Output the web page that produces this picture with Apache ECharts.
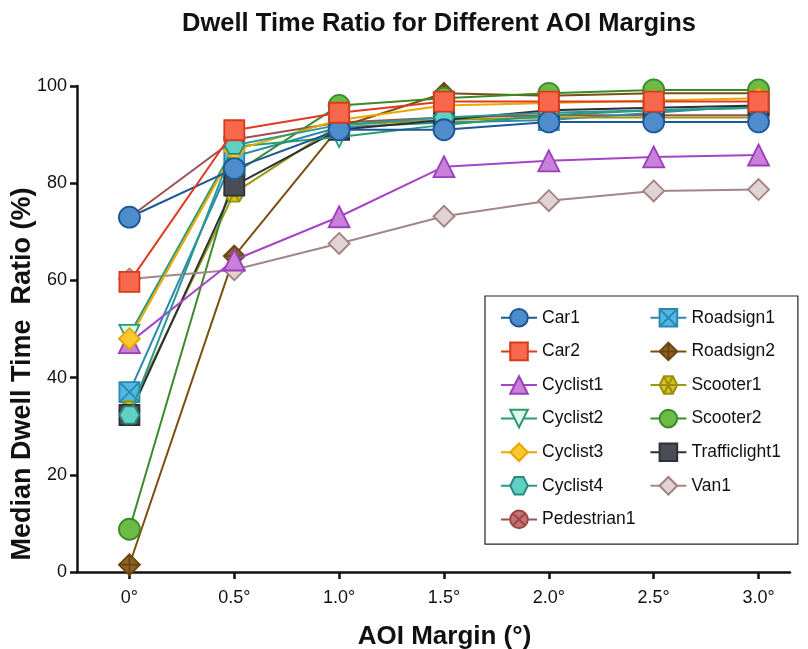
<!DOCTYPE html>
<html><head><meta charset="utf-8">
<script src="https://cdn.jsdelivr.net/npm/echarts@6/dist/echarts.min.js"></script>
<style>html,body{margin:0;padding:0;background:#fff}#c{width:808px;height:649px}</style>
</head><body><div id="c"></div>
<script>
const margins = [0, 0.5, 1.0, 1.5, 2.0, 2.5, 3.0];
const marginLabels = ['0°', '0.5°', '1.0°', '1.5°', '2.0°', '2.5°', '3.0°'];
const yTicks = [0, 20, 40, 60, 80, 100];

const car1 = [73.0, 83.0, 91.0, 91.0, 92.6, 92.6, 92.6];
const car2 = [59.7, 90.9, 94.5, 96.8, 96.8, 96.8, 96.8];
const cyclist1 = [47.2, 64.2, 73.1, 83.4, 84.6, 85.4, 85.8];
const cyclist2 = [48.8, 87.5, 89.5, 92.0, 94.0, 95.0, 95.5];
const cyclist3 = [48.0, 86.8, 93.0, 96.0, 96.5, 97.0, 97.5];
const cyclist4 = [32.3, 87.8, 92.0, 93.5, 94.5, 95.0, 95.5];
const pedestrian1 = [73.0, 89.0, 92.5, 93.5, 94.0, 94.0, 94.0];
const roadsign1 = [37.0, 85.5, 91.5, 92.5, 93.0, 94.5, 96.0];
const roadsign2 = [1.5, 65.0, 91.5, 98.5, 98.0, 98.5, 98.5];
const scooter1 = [33.3, 78.0, 92.0, 93.0, 93.5, 93.5, 93.5];
const scooter2 = [8.8, 82.0, 96.0, 97.5, 98.5, 99.2, 99.2];
const trafficlight1 = [32.3, 79.5, 91.0, 93.0, 95.0, 95.5, 96.0];
const van1 = [60.3, 62.2, 67.6, 73.2, 76.4, 78.4, 78.7];

const HEX = 'path://M-1,0 L-0.5,-0.866 L0.5,-0.866 L1,0 L0.5,0.866 L-0.5,0.866 Z';
const HEXSPOKE = 'path://M-1,0 L-0.5,-0.866 L0.5,-0.866 L1,0 L0.5,0.866 L-0.5,0.866 Z M-1,0 L1,0 M-0.5,-0.866 L0.5,0.866 M0.5,-0.866 L-0.5,0.866';
const CIRCX = 'path://M1,0 A1,1 0 1,1 -1,0 A1,1 0 1,1 1,0 Z M-0.7,-0.7 L0.7,0.7 M0.7,-0.7 L-0.7,0.7';
const RECTX = 'path://M-1,-1 L1,-1 L1,1 L-1,1 Z M-1,-1 L1,1 M1,-1 L-1,1';
const DIAPLUS = 'path://M0,-1 L1,0 L0,1 L-1,0 Z M0,-1 L0,1 M-1,0 L1,0';

const defs = [
  ['Car1', car1, 'circle', '#4f8ccc', '#1c5796', '#1c5796', 21, 0, 4],
  ['Car2', car2, 'rect', '#f7684c', '#d83a1c', '#e03a1e', 20, 0, 4],
  ['Cyclist1', cyclist1, 'triangle', '#c880d8', '#9a3fbb', '#a445c8', 21, 0, 3],
  ['Cyclist2', cyclist2, 'triangle', '#e2f6ee', '#2a9a70', '#2a9a70', 20, 180, 3],
  ['Cyclist3', cyclist3, 'diamond', '#fac72c', '#e5a600', '#e8a800', 21, 0, 3],
  ['Cyclist4', cyclist4, HEX, '#5fd0c2', '#2a8a80', '#2a9a90', 20, 0, 3],
  ['Pedestrian1', pedestrian1, CIRCX, '#c27272', '#a04545', '#a05050', 20, 0, 2],
  ['Roadsign1', roadsign1, RECTX, '#52b8e0', '#2a88b0', '#2a8ab0', 20, 0, 2],
  ['Roadsign2', roadsign2, DIAPLUS, '#8c6220', '#6a4510', '#7a5010', 21, 0, 2],
  ['Scooter1', scooter1, HEXSPOKE, '#d6c41c', '#9a9010', '#9a9a10', 20, 0, 2],
  ['Scooter2', scooter2, 'circle', '#6cbb45', '#3a8a2a', '#3a8a2a', 21, 0, 2],
  ['Trafficlight1', trafficlight1, 'rect', '#4a4d55', '#2e3035', '#2e3035', 20, 0, 2],
  ['Van1', van1, 'diamond', '#e2d2d2', '#a08080', '#a08888', 21, 0, 2]
];

const series = defs.map(d => ({
  name: d[0],
  type: 'line',
  data: margins.map((m, i) => [m, d[1][i]]),
  symbol: d[2],
  symbolSize: d[6],
  symbolRotate: d[7],
  symbolKeepAspect: true,
  z: d[8],
  itemStyle: { color: d[3], borderColor: d[4], borderWidth: 1.8 },
  lineStyle: { color: d[5], width: 2 },
  emphasis: { disabled: true }
}));

const FONT = 'Liberation Sans, Arial, sans-serif';
const chart = echarts.init(document.getElementById('c'), null, { renderer: 'canvas' });
chart.setOption({
  animation: false,
  backgroundColor: '#fff',
  title: {
    text: 'Dwell Time Ratio for Different AOI Margins',
    left: 434, top: 6, textAlign: 'center',
    textStyle: { fontFamily: FONT, fontWeight: 'bold', fontSize: 25.5, color: '#111' }
  },
  grid: { left: 77, right: 18, top: 86, bottom: 77, containLabel: false, outerBoundsMode: 'none' },
  xAxis: {
    type: 'value', min: -0.25, max: 3.15,
    splitLine: { show: false },
    axisLine: { show: true, onZero: false, lineStyle: { color: '#111', width: 2.5 } },
    axisTick: { show: true, customValues: margins, length: 7, lineStyle: { color: '#111', width: 2.5 } },
    axisLabel: {
      customValues: margins,
      formatter: v => marginLabels[margins.indexOf(Math.round(v * 10) / 10)],
      fontFamily: FONT, fontSize: 18, color: '#111', margin: 17
    },
    name: 'AOI Margin (°)', nameLocation: 'middle', nameGap: 52,
    nameTextStyle: { fontFamily: FONT, fontWeight: 'bold', fontSize: 26, color: '#111', padding: [0, 0, 0, 22] }
  },
  yAxis: {
    type: 'value', min: 0, max: 100, interval: 20,
    splitLine: { show: false },
    axisLine: { show: true, onZero: false, lineStyle: { color: '#111', width: 2.5 } },
    axisTick: { show: true, length: 7, lineStyle: { color: '#111', width: 2.5 } },
    axisLabel: {
      formatter: v => yTicks.indexOf(v) >= 0 ? String(v) : '',
      fontFamily: FONT, fontSize: 18, color: '#111', margin: 10
    }
  },
  graphic: [{
    type: 'text', x: 9, y: 374, rotation: Math.PI / 2,
    style: {
      text: 'Median Dwell Time  Ratio (%)', align: 'center', verticalAlign: 'top',
      font: 'bold 27px "Liberation Sans", Arial, sans-serif', fill: '#111'
    }
  }],
  legend: {
    orient: 'vertical', left: 485, top: 296, width: 313, height: 240,
    padding: [12, 17, 15, 15], itemGap: 14, itemWidth: 36, itemHeight: 22,
    borderColor: '#222', borderWidth: 1.2, backgroundColor: '#fff',
    textStyle: { fontFamily: FONT, fontSize: 17.5, color: '#111' },
    data: defs.map(d => d[0])
  },
  series: series
});
</script></body></html>
